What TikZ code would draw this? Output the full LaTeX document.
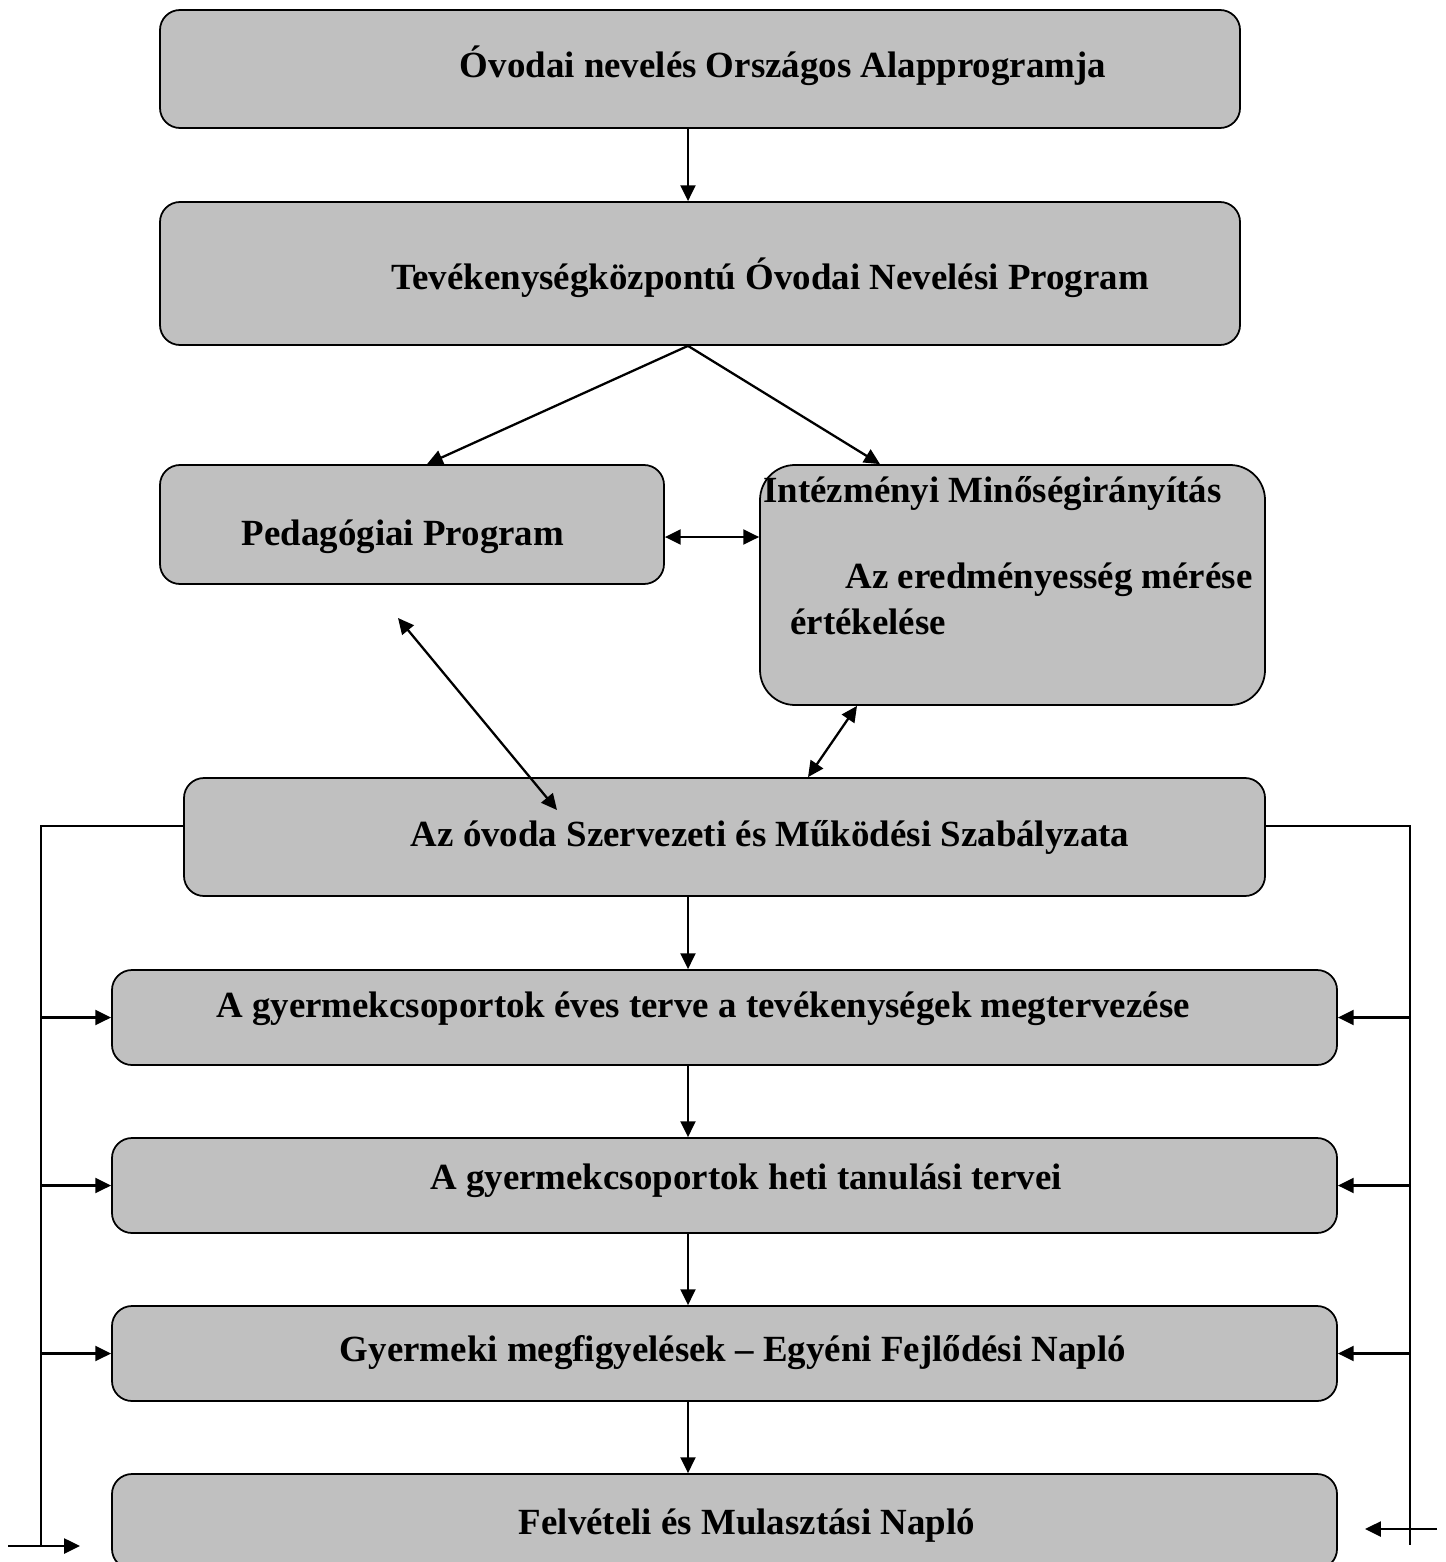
\documentclass[tikz,border=0pt]{standalone}
\usepackage{fontspec}
\setmainfont{Liberation Serif}
\usepackage{tikz}
\usetikzlibrary{arrows.meta}
\usetikzlibrary{shapes,positioning}
\definecolor{boxgray}{HTML}{C0C0C0}
\tikzset{>={Triangle[length=9pt,width=8.5pt]},
  box/.style={draw,fill=boxgray,line width=1pt,rounded corners=0.4cm,inner sep=0pt},
  lab/.style={inner sep=0pt,font=\fontsize{21}{25}\selectfont\bfseries},
  link/.style={line width=1.3pt}}

\begin{document}
\begin{tikzpicture}

  \useasboundingbox (0,0) rectangle (28.9,-31.24);

  \node [box,minimum width=21.6cm,minimum height=2.36cm] (alap) at (14.0,-1.38) {};
  \node [box,minimum width=21.6cm,minimum height=2.86cm] (program) at (14.0,-5.47) {};
  \node [box,minimum width=10.08cm,minimum height=2.38cm] (ped) at (8.24,-10.49) {};
  \node [box,rounded corners=0.7cm,minimum width=10.1cm,minimum height=4.8cm] (int) at (20.25,-11.7) {};
  \node [box,minimum width=21.62cm,minimum height=2.36cm] (szmsz) at (14.49,-16.74) {};
  \node [box,minimum width=24.5cm,minimum height=1.9cm] (eves) at (14.49,-20.35) {};
  \node [box,minimum width=24.5cm,minimum height=1.9cm] (heti) at (14.49,-23.71) {};
  \node [box,minimum width=24.5cm,minimum height=1.9cm] (megf) at (14.49,-27.07) {};
  \node [box,minimum width=24.5cm,minimum height=1.9cm] (napl) at (14.49,-30.43) {};

  \node [lab] (talap) at (15.66,-1.32) {Óvodai nevelés Országos Alapprogramja};
  \node [lab] (tprogram) at (15.4,-5.56) {Tevékenységközpontú Óvodai Nevelési Program};
  \node [lab] (tped) at (8.06,-10.74) {Pedagógiai Program};
  \node [lab,anchor=west] (tint) at (15.26,-9.88) {Intézményi Minőségirányítás};
  \node [lab,anchor=west] (tmer) at (16.9,-11.6) {Az eredményesség mérése};
  \node [lab,anchor=west] (tert) at (15.8,-12.44) {értékelése};
  \node [lab] (tszmsz) at (15.4,-16.74) {Az óvoda Szervezeti és Működési Szabályzata};
  \node [lab] (teves) at (14.06,-20.18) {A gyermekcsoportok éves terve a tevékenységek megtervezése};
  \node [lab] (theti) at (14.92,-23.62) {A gyermekcsoportok heti tanulási tervei};
  \node [lab] (tmegf) at (14.66,-27.06) {Gyermeki megfigyelések – Egyéni Fejlődési Napló};
  \node [lab] (tnapl) at (14.94,-30.52) {Felvételi és Mulasztási Napló};

  % main line
  \coordinate (axis) at (13.76,0);
  \draw [link,->] (alap.south -| axis) -- (program.north -| axis);
  \draw [link,->] (program.south -| axis) -- ([xshift=0.3cm]ped.north);
  \draw [link,->] (program.south -| axis) -- ([xshift=-2.65cm]int.north);
  \draw [link,->] (szmsz.south -| axis) -- (eves.north -| axis);
  \draw [link,->] (eves.south -| axis) -- (heti.north -| axis);
  \draw [link,->] (heti.south -| axis) -- (megf.north -| axis);
  \draw [link,->] (megf.south -| axis) -- (napl.north -| axis);

  % two-way links
  \coordinate (pedint) at ([yshift=-0.25cm]ped.east);
  \draw [link,<->] (pedint) -- (pedint -| int.west);
  \coordinate (pfree) at (7.96,-12.36);
  \coordinate (sfree) at (11.14,-16.2);
  \draw [link,<->] (pfree) -- (sfree);
  \draw [link,<->] ([xshift=1.67cm]szmsz.north) -- ([xshift=-3.11cm]int.south);

  % side rails
  \coordinate (lbot) at (0.82,-30.92);
  \coordinate (rbot) at (28.2,-30.9);
  \draw [link] ([yshift=0.22cm]szmsz.west) -| (lbot);
  \draw [link] ([yshift=0.22cm]szmsz.east) -| (rbot);
  \foreach \n in {eves,heti,megf} {
    \draw [link,->] (\n.west -| lbot) -- (\n.west);
    \draw [link,->] (\n.east -| rbot) -- (\n.east);
  }
  \coordinate (lin) at (0.16,-30.92);
  \coordinate (lout) at (1.6,-30.92);
  \draw [link,->] (lin) -- (lout);
  \coordinate (rin) at (28.74,-30.58);
  \coordinate (rout) at (27.3,-30.58);
  \draw [link,->] (rin) -- (rout);

\end{tikzpicture}
\end{document}
